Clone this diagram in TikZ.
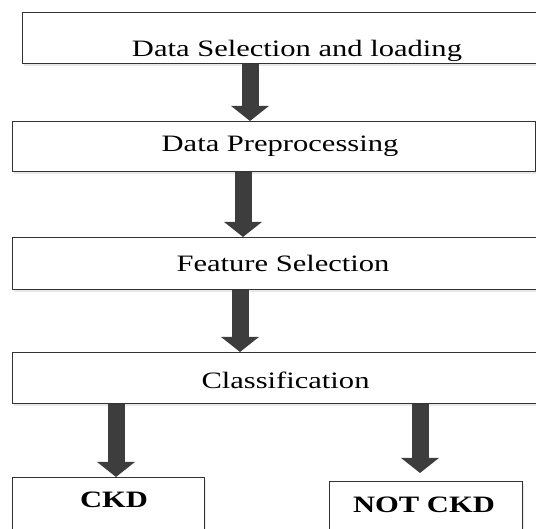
\documentclass[tikz,border=0pt]{standalone}
\usepackage{fontspec}
\setmainfont{Liberation Serif}[FakeStretch=1.3]
\usetikzlibrary{arrows.meta,shadows}
\tikzset{
  stepbox/.style  = {shape=rectangle, draw=black!80, line width=1.4pt,
                     fill=white, inner sep=0pt, anchor=north west,
                     drop shadow={opacity=0.18, shadow xshift=1.5pt,
                                  shadow yshift=-2pt}},
  steptext/.style = {font=\fontsize{23.5}{28}\selectfont, inner sep=0pt},
  result/.style   = {steptext, font=\fontsize{23.5}{28}\selectfont\bfseries},
  bigarrow/.style = {draw=black!76, line width=17pt,
                     -{Triangle[width=37pt, length=15pt]}}
}

\begin{document}
\begin{tikzpicture}[x=1pt, y=-1pt]
  \useasboundingbox (0,0) rectangle (536,529);
  \clip (0,0) rectangle (536,529);

  % pipeline boxes
  \node [stepbox, minimum width=540pt, minimum height=51pt] (load) at (22,12) {};
  \node [stepbox, minimum width=523pt, minimum height=50pt] (prep) at (12,121) {};
  \node [stepbox, minimum width=540pt, minimum height=52pt] (feat) at (12,237) {};
  \node [stepbox, minimum width=540pt, minimum height=51pt] (clas) at (12,352) {};
  \node [stepbox, minimum width=192pt, minimum height=80pt] (ckd)  at (12,477) {};
  \node [stepbox, minimum width=193pt, minimum height=80pt] (nckd) at (329,481) {};

  % labels
  \node [steptext] (loadtxt) at (297,50.5) {Data Selection and loading};
  \node [steptext] (preptxt) at (280,146)  {Data Preprocessing};
  \node [steptext] (feattxt) at (283,263)  {Feature Selection};
  \node [steptext] (clastxt) at (285.5,380) {Classification};
  \node [result]   (ckdtxt)  at (114,500)  {CKD};
  \node [result]   (nckdtxt) at (424,505)  {NOT CKD};

  % arrows between the steps
  \draw [bigarrow] (load.south -| 250,0) -- (prep.north -| 250,0);
  \draw [bigarrow] (prep.south -| 243,0) -- (feat.north -| 243,0);
  \draw [bigarrow] (feat.south -| 240,0) -- (clas.north -| 240,0);
  \draw [bigarrow] (clas.south -| 116,0) -- (ckd.north -| 116,0);
  \draw [bigarrow, shorten >=8pt] (clas.south -| 420,0) -- (nckd.north -| 420,0);
\end{tikzpicture}
\end{document}
